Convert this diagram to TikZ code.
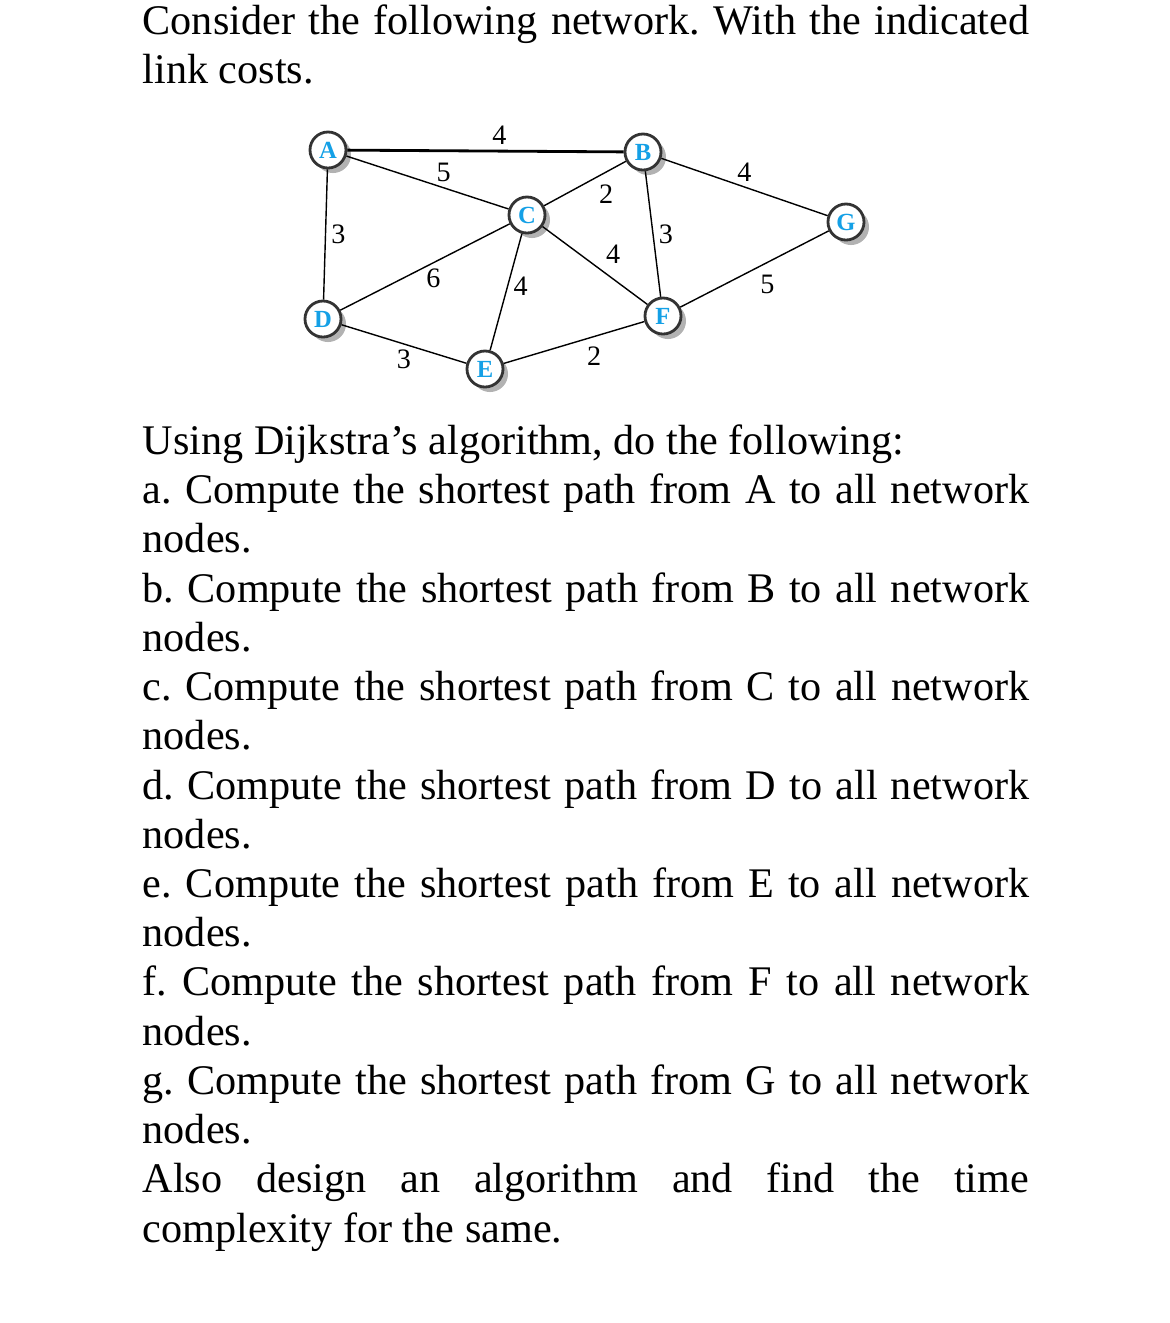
\documentclass[tikz,border=0pt]{standalone}
\usepackage{fontspec}
\setmainfont{Liberation Serif}
\usetikzlibrary{positioning}
\usetikzlibrary{shadows}
\definecolor{nodeblue}{RGB}{20,160,230}
\newcommand{\nohyphens}{\hyphenpenalty10000\exhyphenpenalty10000\relax}
\begin{document}
\begin{tikzpicture}[x=0.01cm, y=-0.01cm,
routernode/.style={circle, draw=black!80, fill=white, thick, minimum size=0.36cm, inner sep=0pt, font=\fontsize{7}{7}\selectfont\bfseries, text=nodeblue, drop shadow={shadow xshift=0.05cm, shadow yshift=-0.05cm, fill=black!60}},
costlabel/.style={font=\fontsize{8}{8}\selectfont, inner sep=1.5pt},
textblock/.style={anchor=north west, text width=8.86cm, align=justify, inner sep=0pt, font=\fontsize{12}{14}\selectfont\frenchspacing\nohyphens},
]
\useasboundingbox (0,0) rectangle (1170,1323);
%Text
\node[textblock] (intro) at (142,4) {Consider the following network. With the indicated link costs.};
\node[textblock] (tasks) at (142,424) {Using Dijkstra’s algorithm, do the following:\par
a. Compute the shortest path from A to all network nodes.\par
b. Compute the shortest path from B to all network nodes.\par
c. Compute the shortest path from C to all network nodes.\par
d. Compute the shortest path from D to all network nodes.\par
e. Compute the shortest path from E to all network nodes.\par
f. Compute the shortest path from F to all network nodes.\par
g. Compute the shortest path from G to all network nodes.\par
Also design an algorithm and find the time complexity for the same.};

%Nodes
\node[routernode] (A) at (328,150) {A};
\node[routernode] (B) at (643,152) {B};
\node[routernode] (C) at (527,215) {C};
\node[routernode] (G) at (846,222) {G};
\node[routernode] (D) at (323,319) {D};
\node[routernode] (F) at (663,316) {F};
\node[routernode] (E) at (485,369) {E};

%Links
\draw[thick] (A) -- node[costlabel, pos=0.55, above] {4} (B);
\draw (A) -- node[costlabel, pos=0.6, above] {5} (C);
\draw (A) -- node[costlabel, right] {3} (D);
\draw (C) -- node[costlabel, pos=0.6, below right] {2} (B);
\draw (B) -- node[costlabel, right] {3} (F);
\draw (B) -- node[costlabel, above] {4} (G);
\draw (C) -- node[costlabel, pos=0.55, above right] {4} (F);
\draw (D) -- node[costlabel, pos=0.55, below] {6} (C);
\draw (C) -- node[costlabel, pos=0.45, right] {4} (E);
\draw (D) -- node[costlabel, pos=0.5, below] {3} (E);
\draw (E) -- node[costlabel, pos=0.55, below right] {2} (F);
\draw (F) -- node[costlabel, pos=0.5, below right] {5} (G);
\end{tikzpicture}
\end{document}
